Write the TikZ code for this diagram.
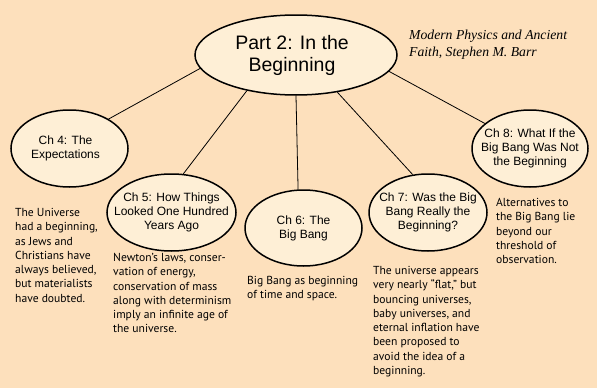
\documentclass[tikz,border=0pt]{standalone}
\usepackage{fontspec}
\setmainfont{Liberation Sans}
\newfontfamily\bodyfont{PT Sans}
\newfontfamily\citefont{Liberation Serif}
\usetikzlibrary{shapes.geometric}
\definecolor{bgpeach}{RGB}{253,224,188}
\definecolor{ellfill}{RGB}{254,239,214}
\tikzset{
  chap/.style={ellipse, draw=black, line width=1.5pt, fill=ellfill, inner sep=0pt},
  chaptext/.style={align=center, font=\fontsize{12}{14.2}\selectfont, inner sep=0pt},
  maintext/.style={align=center, font=\fontsize{19.5}{22}\selectfont, inner sep=0pt},
  body/.style={anchor=north west, align=left, inner sep=0pt, font=\bodyfont\fontsize{11.6}{14.3}\selectfont},
  link/.style={draw=black, line width=0.8pt}
}
\begin{document}
\begin{tikzpicture}[x=1pt,y=-1pt]
\useasboundingbox[fill=bgpeach] (0,0) rectangle (597,388);
% ellipses
\node[chap, minimum width=202pt, minimum height=80pt] (main) at (296,55) {};
\node[chap, minimum width=117pt, minimum height=77pt] (c4) at (69.5,148.5) {};
\node[chap, minimum width=129pt, minimum height=77pt] (c5) at (171.5,212.5) {};
\node[chap, minimum width=117pt, minimum height=76pt] (c6) at (303.5,228) {};
\node[chap, minimum width=118pt, minimum height=77pt] (c7) at (428,212.5) {};
\node[chap, minimum width=116pt, minimum height=77pt] (c8) at (530,148.5) {};
% connectors
\draw[link] (main.188) -- (c4.37);
\draw[link] (main.216) -- (c5.73);
\draw[link] (main.south) -- (c6.98);
\draw[link] (main.318) -- (c7.112);
\draw[link] (main.350) -- (c8.151);
% ellipse texts
\node[maintext] (mt) at ([xshift=-4pt]main.center) {Part 2: In the\\Beginning};
\node[chaptext] (t4) at ([xshift=-4pt]c4.center) {Ch 4: The\\Expectations};
\node[chaptext] (t5) at (c5) {Ch 5: How Things\\Looked One Hundred\\Years Ago};
\node[chaptext] (t6) at (c6) {Ch 6: The\\Big Bang};
\node[chaptext] (t7) at (c7) {Ch 7: Was the Big\\Bang Really the\\Beginning?};
\node[chaptext] (t8) at (c8) {Ch 8: What If the\\Big Bang Was Not\\the Beginning};
% citation
\node[anchor=north west, align=left, inner sep=0pt, font=\citefont\itshape\fontsize{13.7}{16.5}\selectfont] (cite) at (409,30) {Modern Physics and Ancient\\Faith, Stephen M. Barr};
% body texts
\node[body] (b4) at (15,208) {The Universe\\had a beginning,\\as Jews and\\Christians have\\always believed,\\but materialists\\have doubted.};
\node[body] (b5) at (113,253) {Newton’s laws, conser-\\vation of energy,\\conservation of mass\\along with determinism\\imply an infinite age of\\the universe.};
\node[body] (b6) at (247,276) {Big Bang as beginning\\of time and space.};
\node[body] (b7) at (373,266) {The universe appears\\very nearly “flat,” but\\bouncing universes,\\baby universes, and\\eternal inflation have\\been proposed to\\avoid the idea of a\\beginning.};
\node[body] (b8) at (496,198) {Alternatives to\\the Big Bang lie\\beyond our\\threshold of\\observation.};
\end{tikzpicture}
\end{document}
